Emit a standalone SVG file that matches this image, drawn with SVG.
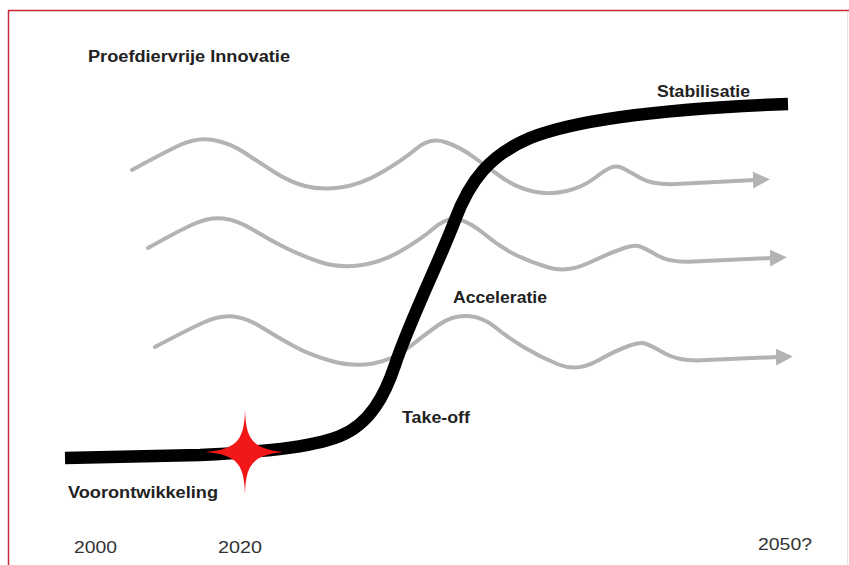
<svg xmlns="http://www.w3.org/2000/svg" width="849" height="565" viewBox="0 0 849 565">
<style>
.wave{fill:none;stroke:#b3b3b3;stroke-width:4;stroke-linecap:round;stroke-linejoin:round;marker-end:url(#arr)}
.lbl{font-family:"Liberation Sans",Arial,sans-serif;font-weight:bold;font-size:16px;fill:#222}
.yr{font-family:"Liberation Sans",Arial,sans-serif;font-weight:normal;font-size:17px;fill:#333}
</style>
<defs>
<marker id="arr" viewBox="0 0 16 16" refX="2" refY="8" markerWidth="17" markerHeight="17" markerUnits="userSpaceOnUse" orient="auto">
<path d="M0,0 L16,8 L0,16 Z" fill="#b3b3b3"/>
</marker>
</defs>
<rect width="849" height="565" fill="#fff"/>
<g id="frame">
<line x1="8" y1="10.5" x2="849" y2="10.5" stroke="#c4283a" stroke-width="1.5"/>
<line x1="8.5" y1="10" x2="8.5" y2="565" stroke="#c4283a" stroke-width="1.5"/>
<line x1="847.5" y1="11" x2="847.5" y2="565" stroke="#e4e4e4" stroke-width="1"/>
</g>
<g id="connectors">
<path id="wave1" class="wave" d="M132,170 Q163,153 180,145 Q197,137 213.5,140 Q230,143 245,153 Q260,163 275,172.5 Q290,182 305,186 Q320,190 340,187.5 Q360,185 381.5,172.5 Q403,160 416.5,148.5 Q430,137 445,142 Q460,147 473.5,157 Q487,167 502,177.5 Q517,188 533.5,191.5 Q550,195 566.5,191 Q583,187 594,178.5 Q605,170 611,167.5 Q617,165 623.5,168.5 Q630,172 641.5,178.5 Q653,185 676.5,184 L755,180"/>
<path id="wave2" class="wave" d="M148,248 Q180,230 195,223.5 Q210,217 223.5,218.5 Q237,220 253.5,230 Q270,240 285,247.5 Q300,255 318.5,261.5 Q337,268 358.5,265.5 Q380,263 400,251.5 Q420,240 433.5,228.5 Q447,217 458.5,219.5 Q470,222 485,234.5 Q500,247 515,254.5 Q530,262 548.5,267.5 Q567,273 588.5,263 Q610,253 621.5,249 Q633,245 638,246 Q643,247 656.5,255 Q670,263 693.5,261.5 L772,258"/>
<path id="wave3" class="wave" d="M155,347 Q187,330 203.5,322.5 Q220,315 233.5,316.5 Q247,318 262,327.5 Q277,337 293.5,346 Q310,355 331.5,361 Q353,367 373,363.5 Q393,360 410,346.5 Q427,333 440,324 Q453,315 468,316 Q483,317 495,327 Q507,337 523.5,347 Q540,357 558.5,364.5 Q577,372 597,361 Q617,350 628.5,346 Q640,342 645,343.5 Q650,345 665,353.5 Q680,362 706.5,360 L778,357"/>
<path id="scurve" d="M65,458 L200,455 C260,452 310,448 340,436 C370,424 385,395 395,365 C410,320 440,260 455,220 C470,180 490,155 530,138 C580,118 680,108 788,104" fill="none" stroke="#000" stroke-width="12.5"/>
</g>
<g id="star">
<path d="M245,410 C246,438 251,449 284,452 C251,455 246,466 245,494 C244,466 239,455 206,452 C239,449 244,438 245,410 Z" fill="#f21818"/>
</g>
<g id="title"><text class="lbl" x="88" y="62" font-size="17" textLength="202" lengthAdjust="spacingAndGlyphs">Proefdiervrije Innovatie</text></g>
<g id="stabilisatie"><text class="lbl" x="657" y="97" textLength="93" lengthAdjust="spacingAndGlyphs">Stabilisatie</text></g>
<g id="acceleratie"><text class="lbl" x="453" y="303" textLength="94" lengthAdjust="spacingAndGlyphs">Acceleratie</text></g>
<g id="takeoff"><text class="lbl" x="402" y="423" textLength="68" lengthAdjust="spacingAndGlyphs">Take-off</text></g>
<g id="voorontwikkeling"><text class="lbl" x="68" y="498" textLength="150" lengthAdjust="spacingAndGlyphs">Voorontwikkeling</text></g>
<g id="y2000"><text class="yr" x="74" y="553" textLength="43" lengthAdjust="spacingAndGlyphs">2000</text></g>
<g id="y2020"><text class="yr" x="218" y="553" textLength="44" lengthAdjust="spacingAndGlyphs">2020</text></g>
<g id="y2050"><text class="yr" x="758" y="550" textLength="54" lengthAdjust="spacingAndGlyphs">2050?</text></g>
</svg>
